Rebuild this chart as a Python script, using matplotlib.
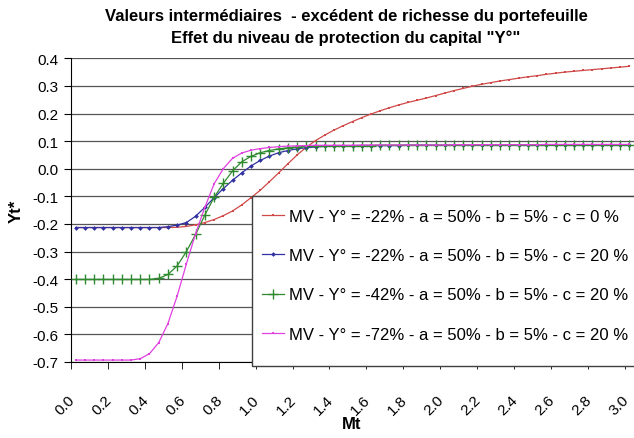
import matplotlib
matplotlib.use("Agg")
import matplotlib.pyplot as plt
import numpy as np
from matplotlib.patches import Rectangle
from matplotlib.transforms import ScaledTranslation

plt.rcParams['font.family'] = ['Liberation Sans', 'DejaVu Sans']

mt = [round(0.05 * k, 2) for k in range(61)]
tick_labels = ["0.0", "0.2", "0.4", "0.6", "0.8", "1.0", "1.2", "1.4", "1.6",
               "1.8", "2.0", "2.2", "2.4", "2.6", "2.8", "3.0"]

red = [-0.213, -0.213, -0.213, -0.213, -0.213, -0.213, -0.213, -0.213, -0.213, -0.213, -0.213,
       -0.212, -0.209, -0.203, -0.195, -0.184, -0.170, -0.153, -0.131, -0.105, -0.078,
       -0.047, -0.015, 0.018, 0.050, 0.078, 0.102, 0.122, 0.140, 0.156, 0.171,
       0.185, 0.198, 0.210, 0.221, 0.231, 0.240, 0.248, 0.256, 0.265, 0.274,
       0.283, 0.291, 0.299, 0.306, 0.312, 0.318, 0.323, 0.328, 0.333, 0.337,
       0.342, 0.346, 0.350, 0.353, 0.356, 0.359, 0.362, 0.365, 0.368, 0.371]
blue = [-0.213, -0.213, -0.213, -0.213, -0.213, -0.213, -0.213, -0.213, -0.213, -0.213,
        -0.210, -0.204, -0.195, -0.172, -0.140, -0.105, -0.072, -0.042, -0.015, 0.010,
        0.030, 0.046, 0.058, 0.066, 0.072, 0.076, 0.079, 0.081, 0.082, 0.083,
        0.083, 0.084, 0.084, 0.084, 0.084, 0.084, 0.085, 0.085, 0.085, 0.085,
        0.085, 0.085, 0.085, 0.085, 0.085, 0.085, 0.086, 0.086, 0.086, 0.086,
        0.086, 0.086, 0.086, 0.086, 0.086, 0.086, 0.086, 0.086, 0.086, 0.086, 0.086]
green = [-0.401, -0.401, -0.401, -0.401, -0.401, -0.401, -0.401, -0.401, -0.401,
         -0.397, -0.383, -0.352, -0.300, -0.238, -0.168, -0.104, -0.053, -0.008, 0.025,
         0.045, 0.058, 0.066, 0.072, 0.076, 0.079, 0.081, 0.082, 0.083,
         0.084, 0.084, 0.084, 0.084, 0.084, 0.085, 0.085, 0.085, 0.085, 0.085,
         0.085, 0.085, 0.085, 0.086, 0.086, 0.086, 0.086, 0.086, 0.086, 0.086,
         0.086, 0.086, 0.086, 0.087, 0.087, 0.087, 0.087, 0.087, 0.087, 0.087,
         0.087, 0.087, 0.087]
magenta = [-0.693, -0.693, -0.693, -0.693, -0.693, -0.693, -0.693,
           -0.688, -0.670, -0.630, -0.561, -0.461, -0.345, -0.235, -0.140, -0.055, 0.000,
           0.038, 0.057, 0.067, 0.073, 0.077, 0.080, 0.082, 0.083, 0.084,
           0.085, 0.085, 0.085, 0.085, 0.085, 0.086, 0.086, 0.086, 0.086, 0.086,
           0.086, 0.086, 0.086, 0.086, 0.086, 0.087, 0.087, 0.087, 0.087, 0.087,
           0.087, 0.087, 0.087, 0.087, 0.087, 0.088, 0.088, 0.088, 0.088, 0.088,
           0.088, 0.088, 0.088, 0.088, 0.088]

labels = ["MV - Y° = -22% - a = 50% - b = 5% - c = 0 %",
          "MV - Y° = -22% - a = 50% - b = 5% - c = 20 %",
          "MV - Y° = -42% - a = 50% - b = 5% - c = 20 %",
          "MV - Y° = -72% - a = 50% - b = 5% - c = 20 %"]

W, H = 634, 439
fig = plt.figure(figsize=(W / 100, H / 100), dpi=100)
ax = fig.add_axes([71 / W, 1 - 363 / H, (W - 71) / W, (363 - 59.3) / H])

ax.plot(mt, red, color='#d04848', lw=0.9, marker='s', ms=2.0, mew=0, label=labels[0], zorder=3)
ax.plot(mt, blue, color='#3030a0', lw=0.9, marker='D', ms=2.4, mew=0, label=labels[1], zorder=3)
ax.plot(mt, green, color='#2f8a2f', lw=0.9, marker='+', ms=7, mew=1.0, label=labels[2], zorder=3)
ax.plot(mt, magenta, color='#e040e0', lw=0.9, marker='s', ms=2.0, mew=0, label=labels[3], zorder=3)

ax.set_xlim(-0.025, 3.025)
ax.set_ylim(-0.7, 0.4)

yt = np.round(np.arange(-0.7, 0.41, 0.1), 1)
ax.set_yticks(yt)
ax.set_yticklabels([f"{v:.1f}" if abs(v) > 1e-9 else "0.0" for v in yt], fontsize=11)
ax.yaxis.grid(True, color='#555555', lw=0.9)
ax.set_axisbelow(True)

ax.set_xticks(mt[::4])
ax.set_xticks([-0.025 + 0.2 * m for m in range(16)], minor=True)
ax.tick_params(axis='x', which='major', length=0, pad=22)
ax.tick_params(axis='x', which='minor', length=5, direction='out', color='black')
ax.tick_params(axis='y', length=5, direction='out', color='black', pad=4)
ax.set_xticklabels(tick_labels, rotation=45, ha='right', va='top',
                   rotation_mode='anchor', fontsize=11)
shift = ScaledTranslation(-8 / 100, 0, fig.dpi_scale_trans)
for lab in ax.get_xticklabels():
    lab.set_transform(lab.get_transform() + shift)

for s in ['top', 'right']:
    ax.spines[s].set_visible(False)
ax.spines['left'].set_color('black')
ax.spines['bottom'].set_color('black')

ax.set_xlabel("Mt", fontsize=12, fontweight='bold', va='center')
ax.xaxis.set_label_coords((352 - 71) / (W - 71), (363 - 425) / (363 - 59.3))
ax.set_ylabel("Yt*", fontsize=12, fontweight='bold', va='center')
ax.yaxis.set_label_coords((16 - 71) / (W - 71), (363 - 211) / (363 - 59.3))

fig.text(346 / W, 1 - 16 / H, "Valeurs intermédiaires  - excédent de richesse du portefeuille",
         ha='center', va='center', fontsize=12, fontweight='bold')
fig.text(346 / W, 1 - 38 / H, "Effet du niveau de protection du capital \"Y°\"",
         ha='center', va='center', fontsize=12, fontweight='bold')

rect = Rectangle((251.7 / W, 1 - 367 / H), (W - 251.7 + 5) / W, (367 - 197.3) / H,
                 transform=fig.transFigure, facecolor='white', edgecolor='#404040',
                 lw=1.0, zorder=4, clip_on=False)
ax.add_artist(rect)

leg = ax.legend(loc='upper left', bbox_to_anchor=(262 / W, 1 - 210 / H),
                bbox_transform=fig.transFigure, frameon=False, fontsize=12,
                handlelength=1.3, handletextpad=0.3, labelspacing=1.45,
                borderaxespad=0, borderpad=0)
leg.set_zorder(5)

fig.savefig("out.png", dpi=100)
